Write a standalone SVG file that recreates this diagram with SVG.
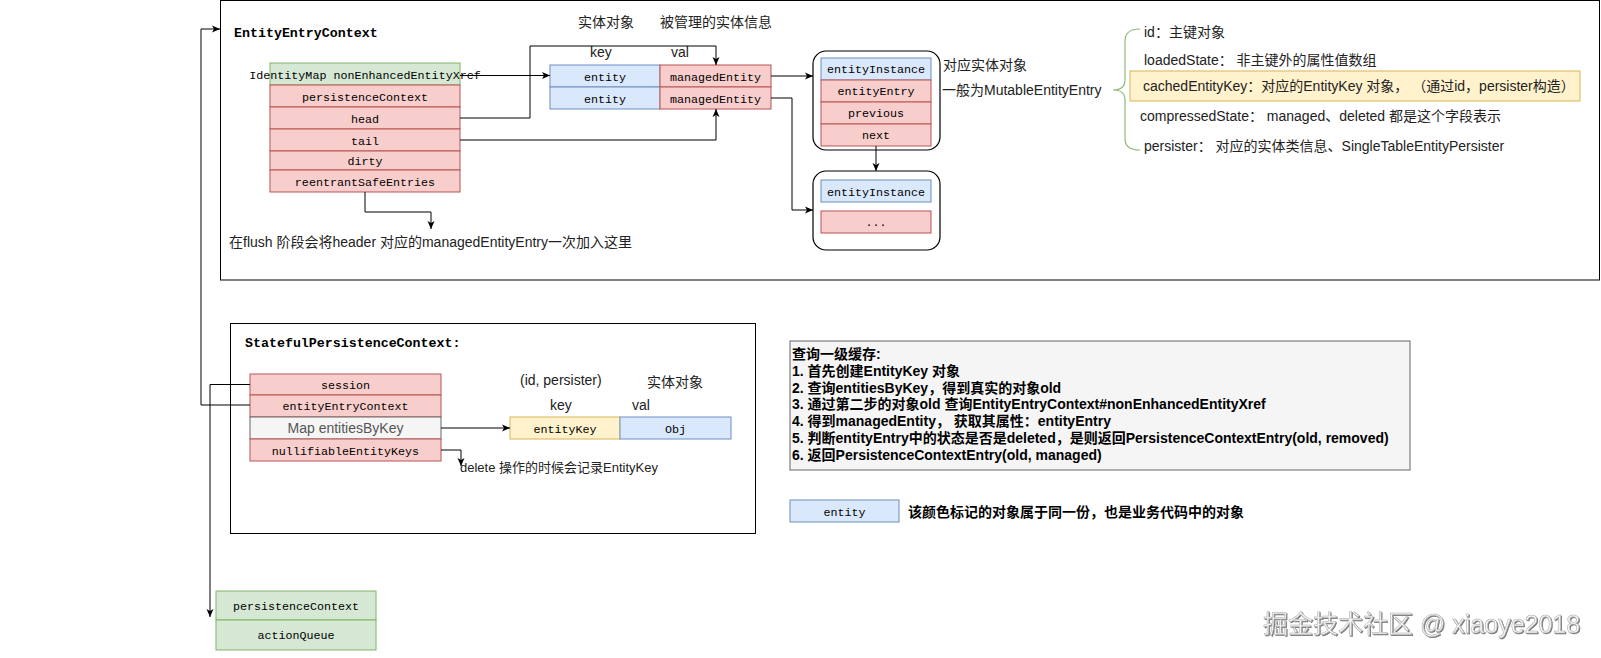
<svg xmlns="http://www.w3.org/2000/svg" width="1601" height="658" viewBox="0 0 1601 658">
<style>
.frame{fill:#fff;stroke:#000;stroke-width:1}
.cont{fill:#fff;stroke:#000;stroke-width:1.2}
.blue{fill:#dae8fc;stroke:#6c8ebf;stroke-width:1}
.red{fill:#f8cecc;stroke:#b85450;stroke-width:1}
.green{fill:#d5e8d4;stroke:#82b366;stroke-width:1}
.yellow{fill:#fff2cc;stroke:#d6b656;stroke-width:1}
.gray{fill:#f5f5f5;stroke:#666;stroke-width:1}
.mono{font-family:"Liberation Mono","Courier New",monospace;font-size:11.7px;fill:#000;text-anchor:middle}
.title{font-family:"Liberation Mono","Courier New",monospace;font-size:13.3px;font-weight:bold;fill:#000}
.sans{font-family:"Liberation Sans",Arial,"Noto Sans CJK SC",sans-serif;font-size:14px;fill:#222}
.bold{font-family:"Liberation Sans",Arial,"Noto Sans CJK SC",sans-serif;font-size:14px;font-weight:bold;fill:#000}
.edge{fill:none;stroke:#000;stroke-width:1}
.brace{fill:none;stroke:#97b77d;stroke-width:1.2}
.wm{font-family:"Liberation Sans",Arial,"Noto Sans CJK SC",sans-serif;font-size:25px;fill:#f4f4f4;stroke:#a8a8a8;stroke-width:0.5}
</style>
<defs>
<marker id="arr" markerWidth="9" markerHeight="8" refX="8" refY="4" orient="auto" markerUnits="userSpaceOnUse">
<path d="M0,0.5 L8,4 L0,7.5 L2,4 z" fill="#000"/>
</marker>
<filter id="sh" x="-5%" y="-20%" width="110%" height="140%">
<feDropShadow dx="1" dy="1" stdDeviation="0.7" flood-color="#555" flood-opacity="0.8"/>
</filter>
</defs>
<rect width="1601" height="658" fill="#fff"/>

<g id="entityEntryContext">
<rect class="frame" x="220.5" y="0.5" width="1379" height="279.5"/>
<text class="title" x="234" y="37">EntityEntryContext</text>
</g>

<g id="eecTable">
<rect class="green" x="270" y="63" width="190" height="22"/>
<rect class="red" x="270" y="85" width="190" height="22"/>
<rect class="red" x="270" y="107" width="190" height="22"/>
<rect class="red" x="270" y="129" width="190" height="22"/>
<rect class="red" x="270" y="151" width="190" height="19"/>
<rect class="red" x="270" y="170" width="190" height="22"/>
<text class="mono" x="365" y="79">IdentityMap nonEnhancedEntityXref</text>
<text class="mono" x="365" y="100.5">persistenceContext</text>
<text class="mono" x="365" y="122.5">head</text>
<text class="mono" x="365" y="144.5">tail</text>
<text class="mono" x="365" y="165">dirty</text>
<text class="mono" x="365" y="186">reentrantSafeEntries</text>
</g>

<g id="flushNote">
<text class="sans" x="229" y="247">在flush 阶段会将header 对应的managedEntityEntry一次加入这里</text>
</g>

<g id="mapLabels">
<text class="sans" x="578" y="27">实体对象</text>
<text class="sans" x="660" y="27">被管理的实体信息</text>
<text class="sans" x="590" y="57">key</text>
<text class="sans" x="671" y="57">val</text>
</g>

<g id="xrefMap">
<rect class="blue" x="550" y="65" width="110" height="22"/>
<rect class="red" x="660" y="65" width="111" height="22"/>
<rect class="blue" x="550" y="87" width="110" height="22"/>
<rect class="red" x="660" y="87" width="111" height="22"/>
<text class="mono" x="605" y="80.5">entity</text>
<text class="mono" x="715.5" y="80.5">managedEntity</text>
<text class="mono" x="605" y="102.5">entity</text>
<text class="mono" x="715.5" y="102.5">managedEntity</text>
</g>

<g id="managedEntity1">
<rect class="cont" x="813" y="51" width="127" height="99" rx="13"/>
<rect class="blue" x="821" y="58" width="110" height="22"/>
<rect class="red" x="821" y="80" width="110" height="22"/>
<rect class="red" x="821" y="102" width="110" height="22"/>
<rect class="red" x="821" y="124" width="110" height="22"/>
<text class="mono" x="876" y="73">entityInstance</text>
<text class="mono" x="876" y="95">entityEntry</text>
<text class="mono" x="876" y="117">previous</text>
<text class="mono" x="876" y="139">next</text>
</g>

<g id="managedEntity2">
<rect class="cont" x="813" y="171" width="127" height="79" rx="13"/>
<rect class="blue" x="821" y="180" width="110" height="22"/>
<rect class="red" x="821" y="211" width="110" height="22"/>
<text class="mono" x="876" y="195.5">entityInstance</text>
<text class="mono" x="876" y="226">...</text>
</g>

<g id="entryNotes">
<text class="sans" x="943" y="70">对应实体对象</text>
<text class="sans" x="942" y="95">一般为MutableEntityEntry</text>
</g>

<g id="entityEntryFields">
<path class="brace" d="M1140,29 Q1125,29 1125,41 V80 Q1125,90 1113,90 Q1125,90 1125,100 V139 Q1125,150 1140,150"/>
<rect class="yellow" x="1130" y="71" width="450" height="30"/>
<text class="sans" x="1144" y="37">id：主键对象</text>
<text class="sans" x="1144" y="65">loadedState： 非主键外的属性值数组</text>
<text class="sans" x="1143" y="91">cachedEntityKey：对应的EntityKey 对象，  （通过id，persister构造）</text>
<text class="sans" x="1140" y="121">compressedState： managed、deleted 都是这个字段表示</text>
<text class="sans" x="1144" y="151">persister： 对应的实体类信息、SingleTableEntityPersister</text>
</g>

<g id="statefulPersistenceContext">
<rect class="frame" x="230.5" y="323.5" width="525" height="210"/>
<text class="title" x="245" y="347">StatefulPersistenceContext:</text>
</g>

<g id="spcTable">
<rect class="red" x="250" y="374" width="191" height="21"/>
<rect class="red" x="250" y="395" width="191" height="22"/>
<rect class="gray" x="250" y="417" width="191" height="22"/>
<rect class="red" x="250" y="439" width="191" height="22"/>
<text class="mono" x="345.5" y="389">session</text>
<text class="mono" x="345.5" y="410">entityEntryContext</text>
<text class="sans" x="345.5" y="433" text-anchor="middle" style="fill:#555">Map entitiesByKey</text>
<text class="mono" x="345.5" y="454.5">nullifiableEntityKeys</text>
</g>

<g id="byKeyLabels">
<text class="sans" x="520" y="385">(id, persister)</text>
<text class="sans" x="647" y="387">实体对象</text>
<text class="sans" x="550" y="410">key</text>
<text class="sans" x="632" y="410">val</text>
</g>

<g id="entitiesByKey">
<rect class="yellow" x="510" y="417" width="110" height="22"/>
<rect class="blue" x="620" y="417" width="111" height="22"/>
<text class="mono" x="565" y="432.5">entityKey</text>
<text class="mono" x="675.5" y="432.5">Obj</text>
</g>

<g id="deleteNote">
<text class="sans" x="460" y="472" style="font-size:13px">delete 操作的时候会记录EntityKey</text>
</g>

<g id="queryNote">
<rect class="gray" x="790" y="341" width="620" height="129"/>
<text class="bold" x="792" y="359">查询一级缓存:</text>
<text class="bold" x="792" y="375.8">1. 首先创建EntityKey 对象</text>
<text class="bold" x="792" y="392.6">2. 查询entitiesByKey，得到真实的对象old</text>
<text class="bold" x="792" y="409.4">3. 通过第二步的对象old 查询EntityEntryContext#nonEnhancedEntityXref</text>
<text class="bold" x="792" y="426.2">4. 得到managedEntity， 获取其属性：entityEntry</text>
<text class="bold" x="792" y="443">5. 判断entityEntry中的状态是否是deleted，是则返回PersistenceContextEntry(old, removed)</text>
<text class="bold" x="792" y="459.8">6. 返回PersistenceContextEntry(old, managed)</text>
</g>

<g id="legend">
<rect class="blue" x="790" y="500" width="109" height="22"/>
<text class="mono" x="844.5" y="515.5">entity</text>
<text class="bold" x="908" y="516.5">该颜色标记的对象属于同一份，也是业务代码中的对象</text>
</g>

<g id="session">
<rect class="green" x="216" y="591" width="160" height="29"/>
<rect class="green" x="216" y="620" width="160" height="30"/>
<text class="mono" x="296" y="609.5">persistenceContext</text>
<text class="mono" x="296" y="639">actionQueue</text>
</g>

<g id="connectors">
<path class="edge" d="M460,75.5 H550" marker-end="url(#arr)"/>
<path class="edge" d="M460,118 H530 V46 H716 V65" marker-end="url(#arr)"/>
<path class="edge" d="M460,140 H716 V109" marker-end="url(#arr)"/>
<path class="edge" d="M771,76 H813" marker-end="url(#arr)"/>
<path class="edge" d="M771,98 H792 V210 H813" marker-end="url(#arr)"/>
<path class="edge" d="M876,146 V171" marker-end="url(#arr)"/>
<path class="edge" d="M365,192 V212 H431 V229" marker-end="url(#arr)"/>
<path class="edge" d="M250,405 H201 V29 H220" marker-end="url(#arr)"/>
<path class="edge" d="M250,384.5 H210 V617" marker-end="url(#arr)"/>
<path class="edge" d="M441,428 H510" marker-end="url(#arr)"/>
<path class="edge" d="M441,450 H461 V466" marker-end="url(#arr)"/>
</g>

<g id="watermark" filter="url(#sh)">
<text class="wm" x="1263" y="633">掘金技术社区 @ xiaoye2018</text>
</g>
</svg>
